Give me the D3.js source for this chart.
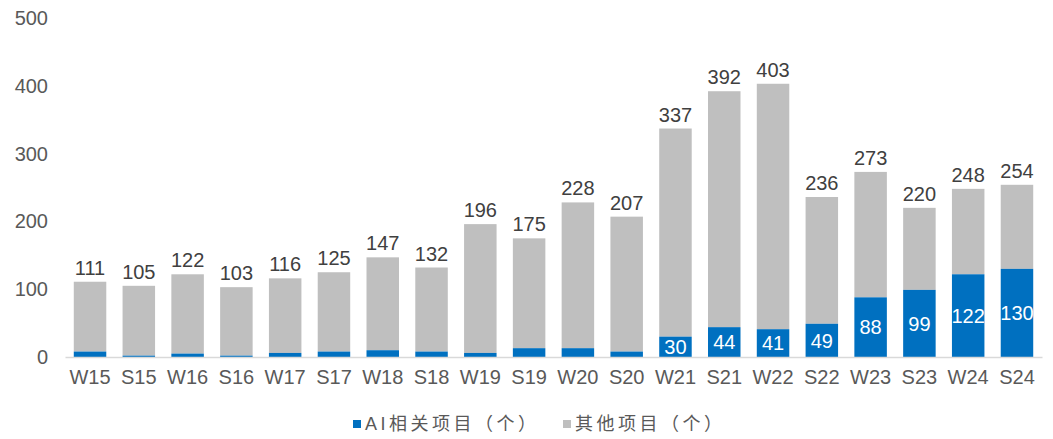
<!DOCTYPE html>
<html>
<head>
<meta charset="utf-8">
<script src="https://d3js.org/d3.v7.min.js"></script>
<style>
  body { margin: 0; background: #fff; }
  text { font-family: "Liberation Sans", Arial, "Noto Sans CJK SC", sans-serif; }
</style>
</head>
<body>
<svg width="1053" height="439"></svg>
<script>
// data
const terms = ['W15','S15','W16','S16','W17','S17','W18','S18','W19','S19',
               'W20','S20','W21','S21','W22','S22','W23','S23','W24','S24'];
const totals = [111,105,122,103,116,125,147,132,196,175,228,207,337,392,403,236,273,220,248,254];
const aiCounts = [8,2,5,2,6,8,10,8,6,13,13,8,30,44,41,49,88,99,122,130];
const yTicks = [0,100,200,300,400,500];
const seriesNames = ['AI相关项目（个）', '其他项目（个）'];

const svg = d3.select('svg');
const margin = {top: 18, right: 11, bottom: 82, left: 65};
const width = 1053, height = 439;
const innerW = width - margin.left - margin.right;
const innerH = height - margin.top - margin.bottom;

const blue = '#0070c0', grey = '#bfbfbf', textCol = '#595959';

const x = d3.scaleBand().domain(terms).range([0, innerW]).paddingInner(0.334).paddingOuter(0.18);
const y = d3.scaleLinear().domain([0, 500]).range([innerH, 0]);

const g = svg.append('g').attr('transform', `translate(${margin.left},${margin.top})`);

// y axis labels only
const yAxis = d3.axisLeft(y).tickValues(yTicks).tickSize(0).tickPadding(17);
g.append('g').call(yAxis)
  .call(s => s.select('.domain').remove())
  .selectAll('text').attr('fill', textCol).style('font-size', '20px');

const rows = terms.map((t, i) => ({term: t, ai: aiCounts[i], total: totals[i]}));

// stacked bars
g.selectAll('.other').data(rows).enter().append('rect')
  .attr('x', d => x(d.term))
  .attr('width', x.bandwidth())
  .attr('y', d => y(d.total))
  .attr('height', d => y(d.ai) - y(d.total))
  .attr('fill', grey);

g.selectAll('.ai').data(rows).enter().append('rect')
  .attr('x', d => x(d.term))
  .attr('width', x.bandwidth())
  .attr('y', d => y(d.ai))
  .attr('height', d => innerH - y(d.ai))
  .attr('fill', blue);

// x axis
const xAxis = d3.axisBottom(x).tickSize(0).tickPadding(13);
g.append('g').attr('transform', `translate(0,${innerH})`).call(xAxis)
  .call(s => s.select('.domain').attr('stroke', '#d9d9d9').attr('stroke-width', 1.5))
  .selectAll('text').attr('fill', textCol).style('font-size', '20px');

// totals above bars
g.selectAll('.tot').data(rows).enter().append('text')
  .attr('x', d => x(d.term) + x.bandwidth() / 2)
  .attr('y', d => y(d.total) - 7)
  .attr('text-anchor', 'middle')
  .attr('fill', '#404040')
  .style('font-size', '20px')
  .text(d => d.total);

// AI values inside the blue part (from W21 on)
g.selectAll('.ailab').data(rows.filter(d => d.ai >= 20)).enter().append('text')
  .attr('x', d => x(d.term) + x.bandwidth() / 2)
  .attr('y', d => (y(d.ai) + innerH) / 2)
  .attr('dy', '0.36em')
  .attr('text-anchor', 'middle')
  .attr('fill', '#fff')
  .style('font-size', '20px')
  .text(d => d.ai);

// legend
const legend = svg.append('g').attr('transform', 'translate(0,424)');
const items = [{name: seriesNames[0], color: blue, x0: 353}, {name: seriesNames[1], color: grey, x0: 563}];
items.forEach(it => {
  legend.append('rect').attr('x', it.x0).attr('y', -4).attr('width', 8).attr('height', 8).attr('fill', it.color);
  legend.append('text').attr('x', it.x0 + 12).attr('y', 0).attr('dy', '0.36em')
    .attr('fill', textCol).style('font-size', '18px').style('letter-spacing', '3.5px')
    .text(it.name);
});
</script>
</body>
</html>
